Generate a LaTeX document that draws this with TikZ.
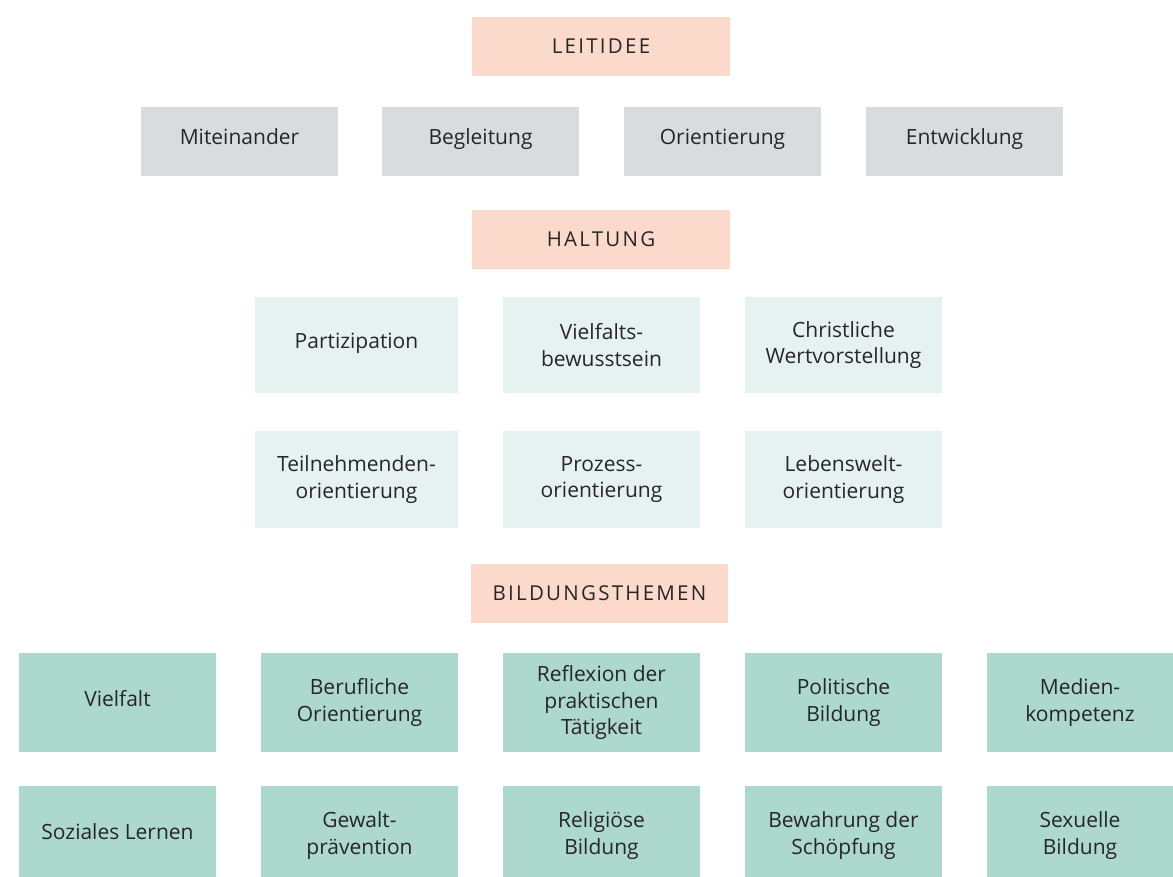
\documentclass[tikz,border=0pt]{standalone}
\usepackage{fontspec}
\setmainfont{Open Sans}
\definecolor{peach}{HTML}{FCDACB}
\definecolor{grayb}{HTML}{D9DCDF}
\definecolor{lightmint}{HTML}{E6F2F0}
\definecolor{mint}{HTML}{ADD8CE}
\definecolor{txt}{HTML}{262626}
\begin{document}
\begin{tikzpicture}[x=1pt,y=-1pt,
  box/.style={rectangle, inner sep=0pt, align=center, text=txt,
    font=\fontsize{21}{26.5}\selectfont},
  one/.style={text height=12pt, text depth=5pt},
  head/.style={box, fill=peach, minimum width=258pt, minimum height=59pt,
    font=\fontsize{20.5}{26}\selectfont\addfontfeature{LetterSpace=11}},
  graybox/.style={box, one, fill=grayb, minimum width=197pt, minimum height=69pt},
  lbox/.style={box, fill=lightmint, minimum height=97pt},
  mbox/.style={box, fill=mint, minimum width=197pt}
]
\fill[white] (0,0) rectangle (1173,877);
\useasboundingbox (0,0) rectangle (1173,877);

\node[head] (leit) at (601,46.5) {LEITIDEE};
\node[graybox] (mit) at (239.5,141.5) {Miteinander};
\node[graybox] (beg) at (480.5,141.5) {Begleitung};
\node[graybox] (ori) at (722.5,141.5) {Orientierung};
\node[graybox] (ent) at (964.5,141.5) {Entwicklung};

\node[head] (halt) at (601,239.5) {HALTUNG};
\node[lbox, one, minimum width=203pt, minimum height=96pt] (par) at (356.5,345) {Partizipation};
\node[lbox, minimum width=197pt, minimum height=96pt] (vie) at (601.5,345) {Vielfalts-\\bewusstsein};
\node[lbox, minimum width=197pt, minimum height=96pt] (chr) at (843.5,345) {Christliche\\Wertvorstellung};
\node[lbox, minimum width=203pt] (tei) at (356.5,479.5) {Teilnehmenden-\\orientierung};
\node[lbox, minimum width=197pt] (pro) at (601.5,479.5) {Prozess-\\orientierung};
\node[lbox, minimum width=197pt] (leb) at (843.5,479.5) {Lebenswelt-\\orientierung};

\node[head, minimum width=257pt] (bild) at (599.5,593.5) {BILDUNGSTHEMEN};
\node[mbox, one, minimum height=99pt] (vf) at (117.5,702.5) {Vielfalt};
\node[mbox, minimum height=99pt] (ber) at (359.5,702.5) {Berufliche\\Orientierung};
\node[mbox, minimum height=99pt] (ref) at (601.5,702.5) {Reflexion der\\praktischen\\Tätigkeit};
\node[mbox, minimum height=99pt] (pol) at (843.5,702.5) {Politische\\Bildung};
\node[mbox, minimum height=99pt, minimum width=186pt] (med) at (1080,702.5) {Medien-\\kompetenz};

\node[mbox, one, minimum height=99pt] (soz) at (117.5,835.5) {Soziales Lernen};
\node[mbox, minimum height=99pt] (gew) at (359.5,835.5) {Gewalt-\\prävention};
\node[mbox, minimum height=99pt] (rel) at (601.5,835.5) {Religiöse\\Bildung};
\node[mbox, minimum height=99pt] (bew) at (843.5,835.5) {Bewahrung der\\Schöpfung};
\node[mbox, minimum height=99pt, minimum width=186pt] (sex) at (1080,835.5) {Sexuelle\\Bildung};
\end{tikzpicture}
\end{document}
